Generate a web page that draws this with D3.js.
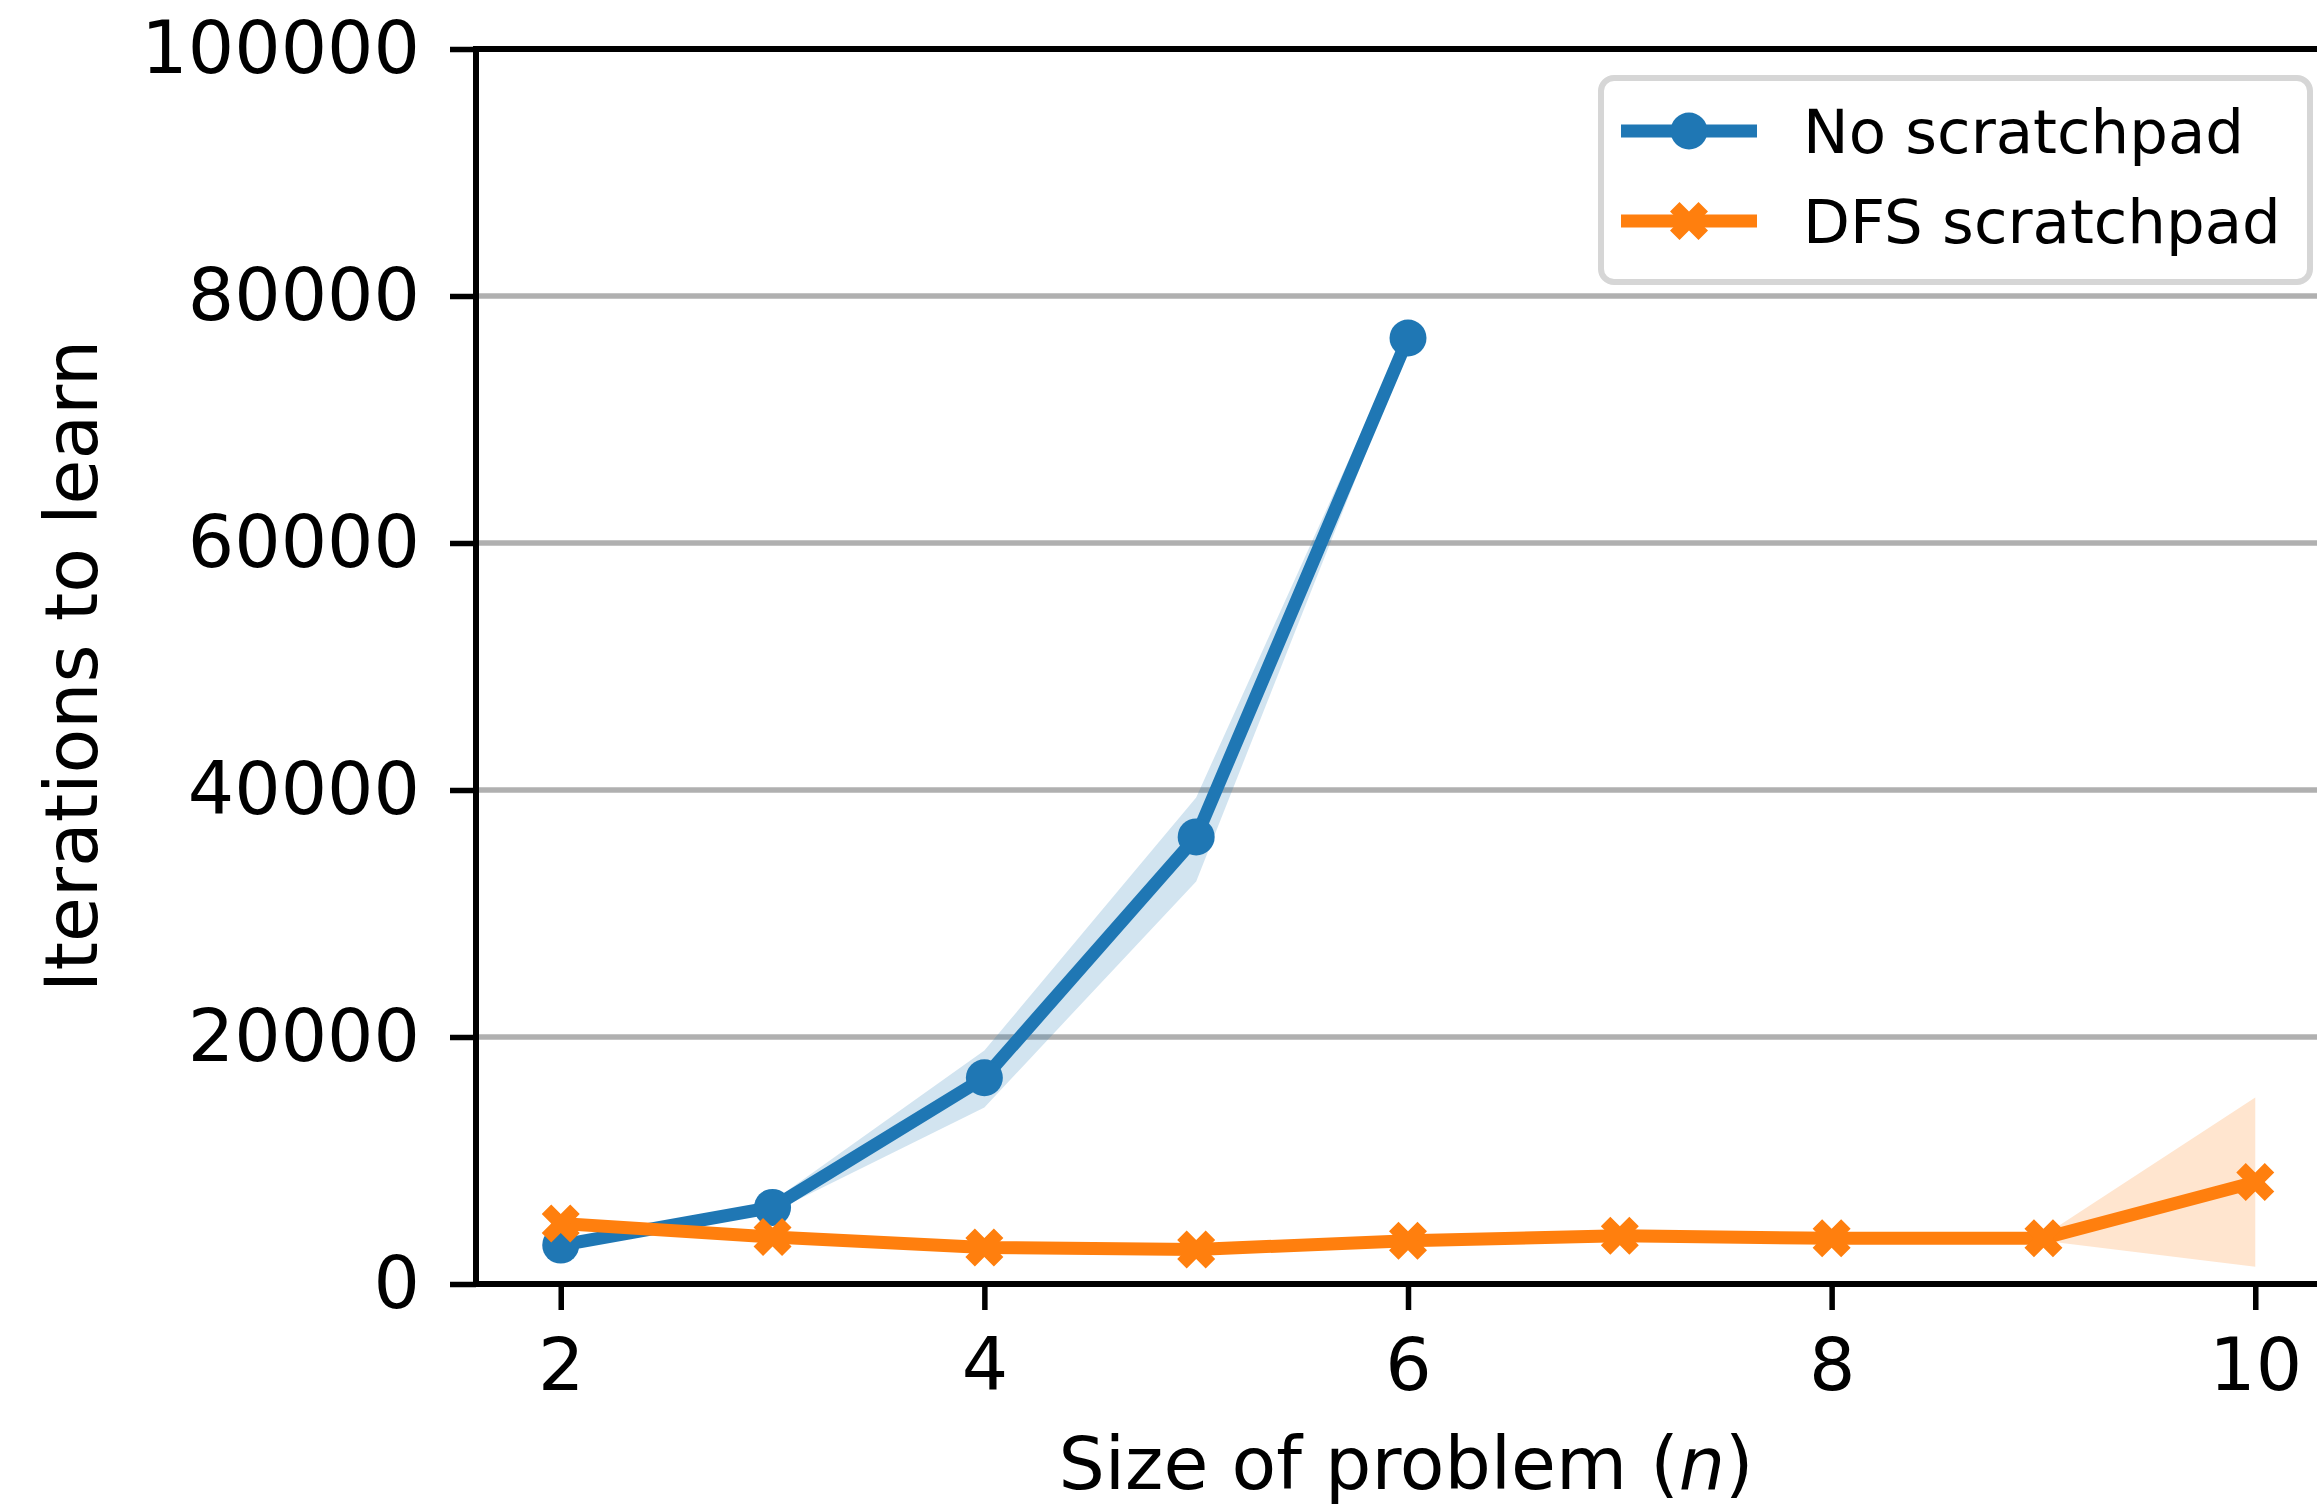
<!DOCTYPE html>
<html>
<head>
<meta charset="utf-8">
<script src="https://cdn.jsdelivr.net/npm/d3@7"></script>
<style>
  body { margin: 0; background: #fff; }
  text { font-family: "DejaVu Sans", sans-serif; fill: #000; }
</style>
</head>
<body>
<div id="chart"></div>
<script>
var svgWidth = 2317;
var svgHeight = 1507;

// data
var sizes = [2, 3, 4, 5, 6, 7, 8, 9, 10];
var noScratchN = [2, 3, 4, 5, 6];
var noScratch = [3150, 6200, 16700, 36200, 76600];
var noScratchLow = [2800, 5800, 14300, 32600, 75900];
var noScratchHigh = [3500, 6700, 18900, 39400, 77300];
var dfsScratch = [4900, 3800, 2950, 2800, 3500, 3900, 3700, 3700, 8250];
var dfsLow = [4600, 3600, 2750, 2600, 3300, 3700, 3500, 3500, 1400];
var dfsHigh = [5200, 4000, 3150, 3000, 3700, 4100, 3900, 3900, 15100];
var yTicks = [0, 20000, 40000, 60000, 80000, 100000];
var xTicks = [2, 4, 6, 8, 10];

var blue = "#1f77b4";
var orange = "#ff7f0e";

var plot = { left: 476, right: 2340, top: 49, bottom: 1284 };

var svg = d3.select("#chart")
  .append("svg")
  .attr("width", svgWidth)
  .attr("height", svgHeight);

var x = d3.scaleLinear().domain([1.6, 10.4]).range([plot.left, plot.right]);
var y = d3.scaleLinear().domain([0, 100000]).range([plot.bottom, plot.top]);

// grid lines (horizontal only)
svg.append("g")
  .selectAll("line")
  .data(yTicks)
  .enter()
  .append("line")
  .attr("x1", plot.left)
  .attr("x2", plot.right)
  .attr("y1", d => y(d))
  .attr("y2", d => y(d))
  .attr("stroke", "#b0b0b0")
  .attr("stroke-width", 5.5);

svg.append("clipPath").attr("id", "plotclip")
  .append("rect")
  .attr("x", plot.left)
  .attr("y", plot.top)
  .attr("width", plot.right - plot.left)
  .attr("height", plot.bottom - plot.top);

var marks = svg.append("g").attr("clip-path", "url(#plotclip)");

var area = d3.area()
  .x(d => x(d.n))
  .y0(d => y(d.lo))
  .y1(d => y(d.hi));

var line = d3.line()
  .x(d => x(d.n))
  .y(d => y(d.v));

var blueData = noScratchN.map((n, i) => ({ n: n, v: noScratch[i], lo: noScratchLow[i], hi: noScratchHigh[i] }));
var orangeData = sizes.map((n, i) => ({ n: n, v: dfsScratch[i], lo: dfsLow[i], hi: dfsHigh[i] }));

// filled X marker, same outline as matplotlib's "X"
function xMarkerPath(size) {
  var pts = [[-1, -2], [0, -1], [1, -2], [2, -1], [1, 0], [2, 1], [1, 2], [0, 1], [-1, 2], [-2, 1], [-1, 0], [-2, -1]];
  return "M" + pts.map(p => (p[0] * size / 4).toFixed(2) + "," + (p[1] * size / 4).toFixed(2)).join("L") + "Z";
}

function drawSeries(data, color, shape) {
  marks.append("path")
    .datum(data)
    .attr("d", area)
    .attr("fill", color)
    .attr("fill-opacity", 0.2);

  marks.append("path")
    .datum(data)
    .attr("d", line)
    .attr("fill", "none")
    .attr("stroke", color)
    .attr("stroke-width", 13)
    .attr("stroke-linejoin", "round")
    .attr("stroke-linecap", "square");

  if (shape === "circle") {
    marks.selectAll(null)
      .data(data)
      .enter()
      .append("circle")
      .attr("cx", d => x(d.n))
      .attr("cy", d => y(d.v))
      .attr("r", 18.5)
      .attr("fill", color);
  } else {
    marks.selectAll(null)
      .data(data)
      .enter()
      .append("path")
      .attr("d", xMarkerPath(38))
      .attr("transform", d => `translate(${x(d.n)},${y(d.v)})`)
      .attr("fill", color);
  }
}

drawSeries(blueData, blue, "circle");
drawSeries(orangeData, orange, "x");

// axes
var leftAxis = d3.axisLeft(y).tickValues(yTicks).tickFormat(d3.format("d")).tickSize(26).tickPadding(30);
var bottomAxis = d3.axisBottom(x).tickValues(xTicks).tickFormat(d3.format("d")).tickSize(26).tickPadding(28);

var yAxisG = svg.append("g")
  .attr("transform", `translate(${plot.left},0)`)
  .call(leftAxis);

var xAxisG = svg.append("g")
  .attr("transform", `translate(0,${plot.bottom})`)
  .call(bottomAxis);

[yAxisG, xAxisG].forEach(g => {
  g.select(".domain").remove();
  g.selectAll(".tick line").attr("stroke", "#000").attr("stroke-width", 5.5);
  g.selectAll(".tick text").attr("font-size", 73).attr("font-family", "DejaVu Sans").attr("fill", "#000");
});

// spines
var spines = svg.append("g")
  .attr("fill", "none")
  .attr("stroke", "#000")
  .attr("stroke-width", 6)
  .attr("stroke-linecap", "square");
spines.append("line").attr("x1", plot.left).attr("x2", plot.left).attr("y1", plot.top).attr("y2", plot.bottom);
spines.append("line").attr("x1", plot.left).attr("x2", plot.right).attr("y1", plot.bottom).attr("y2", plot.bottom);
spines.append("line").attr("x1", plot.left).attr("x2", plot.right).attr("y1", plot.top).attr("y2", plot.top);
spines.append("line").attr("x1", plot.right).attr("x2", plot.right).attr("y1", plot.top).attr("y2", plot.bottom);

// axis labels
var xLabel = svg.append("text")
  .attr("x", 1406)
  .attr("y", 1489)
  .attr("text-anchor", "middle")
  .attr("font-size", 73);
xLabel.append("tspan").text("Size of problem (");
xLabel.append("tspan").attr("font-style", "italic").text("n");
xLabel.append("tspan").text(")");

svg.append("text")
  .attr("transform", "translate(97,666) rotate(-90)")
  .attr("text-anchor", "middle")
  .attr("font-size", 73)
  .text("Iterations to learn");

// legend
var legendNames = ["No scratchpad", "DFS scratchpad"];
var legendColors = [blue, orange];
var legend = svg.append("g");

legend.append("rect")
  .attr("x", 1601)
  .attr("y", 78)
  .attr("width", 709)
  .attr("height", 204)
  .attr("rx", 13)
  .attr("fill", "#fff")
  .attr("fill-opacity", 0.8)
  .attr("stroke", "#d6d6d6")
  .attr("stroke-width", 6);

legendNames.forEach((name, i) => {
  var cy = 131 + i * 90;
  legend.append("line")
    .attr("x1", 1621).attr("x2", 1757)
    .attr("y1", cy).attr("y2", cy)
    .attr("stroke", legendColors[i])
    .attr("stroke-width", 13);
  if (i === 0) {
    legend.append("circle").attr("cx", 1689).attr("cy", cy).attr("r", 18.5).attr("fill", blue);
  } else {
    legend.append("path").attr("d", xMarkerPath(38)).attr("transform", `translate(1689,${cy})`).attr("fill", orange);
  }
  legend.append("text")
    .attr("x", 1803)
    .attr("y", cy + 22)
    .attr("font-size", 61)
    .text(name);
});
</script>
</body>
</html>
